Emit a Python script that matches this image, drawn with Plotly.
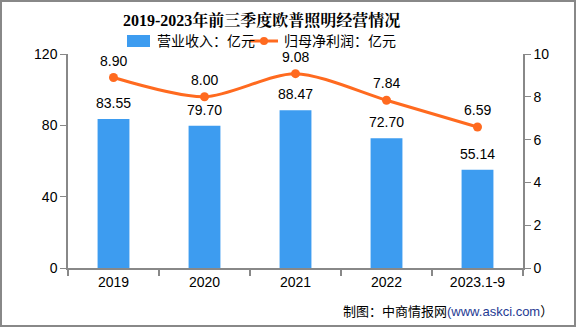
import plotly.graph_objects as go

categories = ["2019", "2020", "2021", "2022", "2023.1-9"]
revenue = [83.55, 79.70, 88.47, 72.70, 55.14]
profit = [8.90, 8.00, 9.08, 7.84, 6.59]
revenue_labels = ["83.55", "79.70", "88.47", "72.70", "55.14"]
profit_labels = ["8.90", "8.00", "9.08", "7.84", "6.59"]
left_ticks = [0, 40, 80, 120]
right_ticks = [0, 2, 4, 6, 8, 10]

W, H = 576, 327
L, R, T, B = 68, 53, 54, 59
pw, ph = W - L - R, H - T - B

BAR = "#3D9CF0"
LINE = "#FF6A1F"
FONT = "SimSun, Liberation Sans, Noto Sans CJK SC"

xpos = list(range(len(categories)))


def px(x):
    return (x - L) / pw


def py(y):
    return (H - y - B) / ph


fig = go.Figure()
fig.add_trace(go.Bar(x=xpos, y=revenue, name="营业收入：亿元",
                     marker=dict(color=BAR, line=dict(width=0)), width=0.35,
                     yaxis="y", showlegend=False))
fig.add_trace(go.Scatter(x=xpos, y=profit, name="归母净利润：亿元",
                         mode="lines+markers", yaxis="y2", showlegend=False,
                         line=dict(color=LINE, width=3, shape="spline", smoothing=0.8),
                         marker=dict(color=LINE, size=9)))

ann = []
for c, v, t in zip(xpos, revenue, revenue_labels):
    ann.append(dict(x=c, y=v, xref="x", yref="y", text=t, showarrow=False,
                    yshift=16, font=dict(size=14, color="#000", family=FONT)))
for c, v, t in zip(xpos, profit, profit_labels):
    ann.append(dict(x=c, y=v, xref="x", yref="y2", text=t, showarrow=False,
                    yshift=17, font=dict(size=14, color="#000", family=FONT)))
ann.append(dict(x=px(261), y=py(21), xref="paper", yref="paper",
                text="<b>2019-2023年前三季度欧普照明经营情况</b>", showarrow=False,
                font=dict(size=16, color="#000", family="Liberation Serif, Noto Serif CJK SC, Noto Sans CJK SC"),
                xanchor="center", yanchor="middle"))
ann.append(dict(x=px(155), y=py(41), xref="paper", yref="paper",
                text="营业收入：亿元", showarrow=False, xanchor="left", yanchor="middle",
                font=dict(size=14, color="#000", family=FONT)))
ann.append(dict(x=px(282), y=py(41), xref="paper", yref="paper",
                text="归母净利润：亿元", showarrow=False, xanchor="left", yanchor="middle",
                font=dict(size=14, color="#000", family=FONT)))
ann.append(dict(x=px(448), y=py(311), xref="paper", yref="paper",
                text="制图：中商情报网<span style='color:#1F3A93'>(www.askci.com</span>）",
                showarrow=False, font=dict(size=13, color="#000", family=FONT),
                xanchor="center", yanchor="middle"))

shapes = [
    dict(type="rect", xref="paper", yref="paper",
         x0=-(L - 1) / pw, x1=1 + (R - 1) / pw,
         y0=-(B - 1) / ph, y1=1 + (T - 1) / ph,
         line=dict(color="#888", width=2), fillcolor="rgba(0,0,0,0)", layer="below"),
    dict(type="rect", xref="paper", yref="paper", x0=px(127), x1=px(150),
         y0=py(47), y1=py(35), fillcolor=BAR, line=dict(width=0)),
    dict(type="line", xref="paper", yref="paper", x0=px(250), x1=px(278),
         y0=py(41), y1=py(41), line=dict(color=LINE, width=3)),
    dict(type="circle", xref="paper", yref="paper", x0=px(260), x1=px(268),
         y0=py(45), y1=py(37), fillcolor=LINE, line=dict(width=0)),
]

fig.update_layout(
    width=W, height=H,
    margin=dict(l=L, r=R, t=T, b=B, pad=0),
    paper_bgcolor="white", plot_bgcolor="white",
    showlegend=False,
    font=dict(family=FONT, size=13, color="#000"),
    xaxis=dict(range=[-0.5, len(categories) - 0.5], tickvals=xpos, ticktext=categories,
               showline=True, linecolor="#888", linewidth=1.5,
               ticks="", showgrid=False, zeroline=False,
               tickfont=dict(size=14, family=FONT),
               minor=dict(tickmode="linear", tick0=-0.5, dtick=1, ticks="outside",
                          ticklen=6, tickcolor="#888", tickwidth=1.5, showgrid=False)),
    yaxis=dict(range=[0, 120], tickvals=left_ticks, showline=True, linecolor="#888",
               linewidth=1.5, ticks="outside", ticklen=6, tickcolor="#888",
               showgrid=False, zeroline=False, tickfont=dict(size=14, family=FONT)),
    yaxis2=dict(range=[0, 10], tickvals=right_ticks, overlaying="y", side="right",
                showline=True, linecolor="#888", linewidth=1.5, ticks="outside",
                ticklen=6, tickcolor="#888", showgrid=False, zeroline=False,
                tickfont=dict(size=14, family=FONT)),
    annotations=ann,
    shapes=shapes,
)

fig.write_html("out.html")
